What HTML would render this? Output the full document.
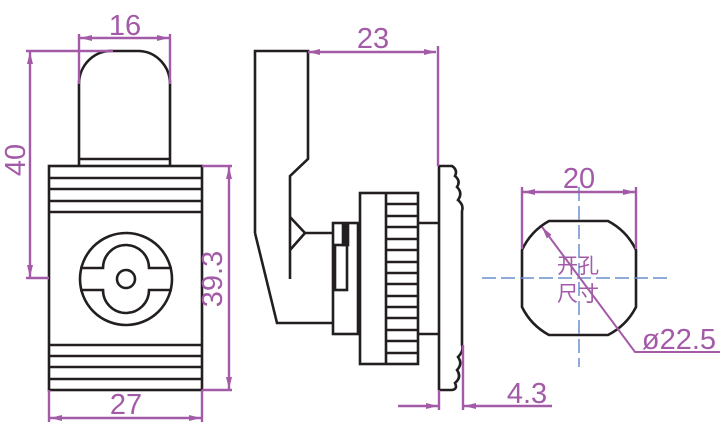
<!DOCTYPE html>
<html><head><style>body{margin:0;background:#fff}svg{display:block}</style></head><body>
<svg width="728" height="430" viewBox="0 0 728 430" xmlns="http://www.w3.org/2000/svg">
<defs>
<marker id="a" viewBox="0 0 12 6" refX="12" refY="3" markerWidth="12" markerHeight="6" orient="auto-start-reverse" markerUnits="userSpaceOnUse"><path d="M0,0L12,3L0,6z" fill="#a35ba8"/></marker>
</defs>
<g fill="none" stroke="#231f20" stroke-width="2.6">
<path d="M79,84 L79,165 M170,84 L170,165 M79,159 L170,159"/>
<path d="M79,84 A32,33 0 0 1 113,51 L139,51 A32,33 0 0 1 170,84"/>
<rect x="49" y="166" width="153" height="224"/>
<path d="M49,178H202M49,189H202M49,201H202M49,212H202M49,345H202M49,356H202M49,367H202M49,379H202"/>
<circle cx="126" cy="279" r="46"/>
<circle cx="126" cy="279" r="9"/>
<path d="M80,268H103 A23,23 0 0 1 149,268 H172 M80,290H103 A23,23 0 0 0 149,290 H172"/>
<path d="M255,233 V51 H308 V159 L290,176 V279"/>
<path d="M255,233 L277,323 H333"/>
<path d="M290,217 L305,233 L290,250 M305,233 H333"/>
<rect x="333" y="223" width="25" height="111"/>
<rect x="335" y="245" width="12" height="45"/>
<rect x="343" y="224" width="5" height="21" fill="#231f20"/>
<rect x="360" y="193" width="58" height="171"/>
<path d="M386,193V364 M386,204H418M386,216H418M386,227H418M386,239H418M386,250H418M386,262H418M386,273H418M386,284H418M386,296H418M386,307H418M386,318H418M386,330H418M386,341H418M386,353H418"/>
<path d="M418,223H439M418,334H439"/>
<path d="M439,166V390 M439,166H452 Q458,170 455,176 Q461,181 457,187 Q463,193 458,200 Q464,205 462,211 V345 Q464,351 458,357 Q463,364 457,370 Q462,377 455,383 Q458,389 452,390 H439"/>
<path d="M549,221 H608 A64,64 0 0 1 636,250 V307 A64,64 0 0 1 608,335 H549 A64,64 0 0 1 522,307 V250 A64,64 0 0 1 549,221 Z"/>
</g>
<g stroke="#6a8fd0" stroke-width="1.5" stroke-dasharray="14,5">
<path d="M482,278H672 M579,187V367"/>
</g>
<g stroke="#a35ba8" stroke-width="2.4" fill="none">
<path d="M79,34V84 M170,34V84"/>
<path d="M80,38H169" marker-start="url(#a)" marker-end="url(#a)"/>
<path d="M26,51H113 M26,278H49"/>
<path d="M30,52V277" marker-start="url(#a)" marker-end="url(#a)"/>
<path d="M202,166H232 M202,390H232"/>
<path d="M229,167V389" marker-start="url(#a)" marker-end="url(#a)"/>
<path d="M49,390V422 M202,390V422"/>
<path d="M50,418H201" marker-start="url(#a)" marker-end="url(#a)"/>
<path d="M308,52H436" marker-start="url(#a)" marker-end="url(#a)"/>
<path d="M438,46V166"/>
<path d="M439,390V410 M463,345V410"/>
<path d="M398,406H438" marker-end="url(#a)"/>
<path d="M552,406H464" marker-end="url(#a)"/>
<path d="M522,187V249 M636,187V249"/>
<path d="M523,192H635" marker-start="url(#a)" marker-end="url(#a)"/>
<path d="M542,227 L635,352 H720" marker-start="url(#a)" stroke-width="2"/>
</g>
<g fill="#a35ba8" font-family="Liberation Sans, sans-serif" font-size="29" text-anchor="middle">
<text x="125" y="35">16</text>
<text x="126" y="414">27</text>
<text x="373" y="48">23</text>
<text x="579" y="188">20</text>
<text x="527" y="403">4.3</text>
<text x="679" y="349">ø22.5</text>
<text transform="translate(25,160) rotate(-90)">40</text>
<text transform="translate(222,279) rotate(-90)">39.3</text>
<g font-family="Liberation Sans, 'Noto Sans CJK SC', sans-serif" font-size="21">
<text x="578" y="273">开孔</text>
<text x="578" y="301">尺寸</text>
</g>
</g>
</svg>
</body></html>
